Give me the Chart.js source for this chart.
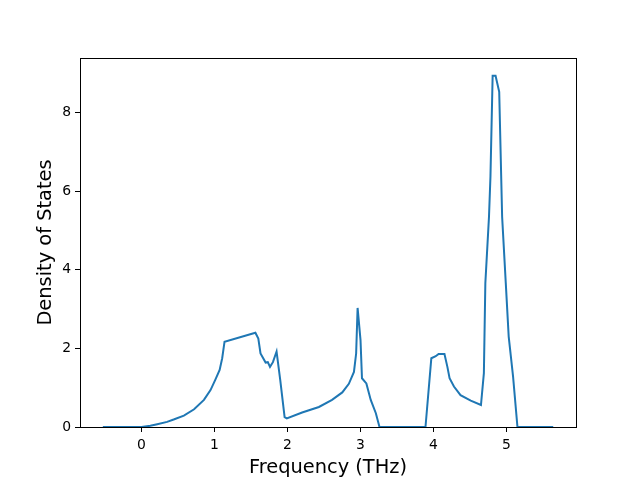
<!DOCTYPE html>
<html>
<head>
<meta charset="utf-8">
<script src="https://cdn.jsdelivr.net/npm/chart.js@4/dist/chart.umd.min.js"></script>
<style>
html,body{margin:0;padding:0;background:#fff;}
#wrap{width:640px;height:480px;}
</style>
</head>
<body>
<div id="wrap"><canvas id="c" width="640" height="480"></canvas></div>
<script>
const frequency = [-0.53, 0.0, 0.12, 0.215, 0.35, 0.44, 0.58, 0.72, 0.855, 0.945, 1.01, 1.07, 1.105, 1.137, 1.56, 1.60, 1.63, 1.70, 1.73, 1.76, 1.80, 1.85, 1.90, 1.96, 1.99, 2.20, 2.43, 2.61, 2.75, 2.84, 2.91, 2.94, 2.96, 3.00, 3.02, 3.08, 3.14, 3.21, 3.26, 3.89, 3.97, 4.03, 4.07, 4.15, 4.19, 4.22, 4.28, 4.37, 4.51, 4.65, 4.69, 4.71, 4.76, 4.78, 4.81, 4.85, 4.90, 4.94, 4.99, 5.03, 5.09, 5.15, 5.64];
const density = [0.0, 0.0, 0.03, 0.07, 0.13, 0.19, 0.29, 0.45, 0.69, 0.94, 1.20, 1.45, 1.75, 2.17, 2.40, 2.25, 1.87, 1.64, 1.65, 1.53, 1.65, 1.92, 1.20, 0.25, 0.22, 0.37, 0.51, 0.69, 0.88, 1.10, 1.40, 1.87, 3.03, 2.21, 1.24, 1.11, 0.69, 0.35, 0.0, 0.0, 1.75, 1.80, 1.86, 1.86, 1.53, 1.24, 1.03, 0.81, 0.67, 0.56, 1.37, 3.66, 5.35, 6.37, 8.94, 8.94, 8.53, 5.35, 3.66, 2.30, 1.28, 0.0, 0.0];
const xTicks = [0, 1, 2, 3, 4, 5];
const yTicks = [0, 2, 4, 6, 8];

const points = frequency.map((f, i) => ({x: f, y: density[i]}));

const frame = {
  id: 'frame',
  afterDraw(chart) {
    const {ctx, chartArea: a} = chart;
    ctx.save();
    ctx.strokeStyle = '#000';
    ctx.lineWidth = 1;
    ctx.strokeRect(Math.round(a.left) + 0.5, Math.round(a.top) + 0.5, Math.round(a.right - a.left), Math.round(a.bottom - a.top));
    ctx.restore();
  }
};

const tickFont = {family: 'DejaVu Sans', size: 13.9};
const titleFont = {family: 'DejaVu Sans', size: 19.4};

new Chart(document.getElementById('c'), {
  type: 'scatter',
  data: {
    datasets: [{
      data: points,
      showLine: true,
      borderColor: '#1f77b4',
      backgroundColor: '#1f77b4',
      borderWidth: 2,
      pointRadius: 0,
      tension: 0
    }]
  },
  options: {
    responsive: false,
    animation: false,
    devicePixelRatio: 1,
    layout: {padding: {left: 0, right: 64, top: 58, bottom: 0}},
    plugins: {legend: {display: false}, tooltip: {enabled: false}},
    scales: {
      x: {
        type: 'linear',
        min: -0.843,
        max: 5.952,
        afterBuildTicks(s) { s.ticks = xTicks.map(v => ({value: v})); },
        afterFit(s) { s.height = 53; },
        grid: {display: true, drawOnChartArea: false, tickLength: 5, color: '#000', tickColor: '#000'},
        border: {display: false},
        ticks: {color: '#000', font: tickFont, padding: 5, maxRotation: 0, callback: v => String(v)},
        title: {display: true, text: 'Frequency (THz)', color: '#000', font: titleFont, padding: {top: 0, bottom: 0}}
      },
      y: {
        type: 'linear',
        min: 0,
        max: 9.39,
        afterBuildTicks(s) { s.ticks = yTicks.map(v => ({value: v})); },
        afterFit(s) { s.width = 80; },
        grid: {display: true, drawOnChartArea: false, tickLength: 5, color: '#000', tickColor: '#000'},
        border: {display: false},
        ticks: {color: '#000', font: tickFont, padding: 4, callback: v => String(v)},
        title: {display: true, text: 'Density of States', color: '#000', font: titleFont, padding: {top: 34, bottom: 4}}
      }
    }
  },
  plugins: [frame]
});
</script>
</body>
</html>
